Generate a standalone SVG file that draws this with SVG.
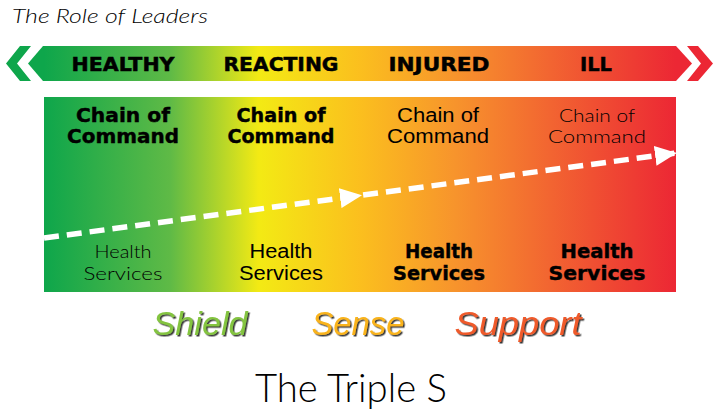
<svg xmlns="http://www.w3.org/2000/svg" width="720" height="416" viewBox="0 0 720 416">
<defs>
<linearGradient id="heat" gradientUnits="userSpaceOnUse" x1="44" y1="0" x2="676" y2="0">
<stop offset="0" stop-color="#0ea64b"/>
<stop offset="0.2" stop-color="#5fba46"/>
<stop offset="0.34" stop-color="#f3ea14"/>
<stop offset="0.5" stop-color="#fbbf1e"/>
<stop offset="0.65" stop-color="#f7942c"/>
<stop offset="0.8" stop-color="#f26531"/>
<stop offset="1" stop-color="#ec2734"/>
</linearGradient>
<marker id="head" viewBox="0 0 22 20" refX="22" refY="10" markerWidth="22" markerHeight="20" markerUnits="userSpaceOnUse" orient="auto">
<path d="M0,0 L22,10 L0,20 Z" fill="#ffffff"/>
</marker>
<filter id="shadow" x="-10%" y="-20%" width="130%" height="150%">
<feDropShadow dx="1.5" dy="1.5" stdDeviation="0.5" flood-color="#222" flood-opacity="0.9"/>
</filter>
</defs>
<style>
text { text-anchor: middle; fill: #000; }
.hdr { font-family: "DejaVu Sans", sans-serif; font-weight: bold; font-size: 20px; stroke: #000; stroke-width: 0.5px; }
.blk { font-family: "DejaVu Sans", sans-serif; font-weight: bold; font-size: 19px; stroke: #000; stroke-width: 0.4px; }
.reg { font-family: "Liberation Sans", Arial, sans-serif; font-weight: normal; font-size: 19.5px; }
.lgt { font-family: Lato, "Liberation Sans", sans-serif; font-weight: 300; font-size: 18.5px; }
.sss { font-family: "Liberation Sans", Arial, sans-serif; font-style: italic; font-size: 33px; filter: url(#shadow); }
</style>
<rect width="720" height="416" fill="#ffffff"/>

<g id="title">
<text x="12" y="23" class="lgt" style="text-anchor:start;font-style:italic;font-size:20px" textLength="196" lengthAdjust="spacingAndGlyphs">The Role of Leaders</text>
</g>

<g id="banner">
<polygon points="20,46 31,46 17,63.5 31,81 20,81 6,63.5" fill="#0ea64b"/>
<polygon points="43,46 676,46 692,63.5 676,81 43,81 28,63.5" fill="url(#heat)"/>
<polygon points="687,46 698,46 713,63.5 698,81 687,81 701,63.5" fill="#ec2734"/>
<text x="123" y="71" class="hdr" textLength="103" lengthAdjust="spacingAndGlyphs">HEALTHY</text>
<text x="281" y="71" class="hdr" textLength="115" lengthAdjust="spacingAndGlyphs">REACTING</text>
<text x="439" y="71" class="hdr" textLength="101" lengthAdjust="spacingAndGlyphs">INJURED</text>
<text x="596" y="71" class="hdr" textLength="32" lengthAdjust="spacingAndGlyphs">ILL</text>
</g>

<g id="panel">
<rect x="44" y="97" width="632" height="195" fill="url(#heat)"/>
</g>

<g id="col-healthy">
<text x="123" y="122" class="blk" textLength="94" lengthAdjust="spacingAndGlyphs">Chain of</text>
<text x="123" y="143" class="blk" textLength="112" lengthAdjust="spacingAndGlyphs">Command</text>
<text x="123" y="258" class="lgt" textLength="57" lengthAdjust="spacingAndGlyphs">Health</text>
<text x="123" y="280" class="lgt" textLength="79" lengthAdjust="spacingAndGlyphs">Services</text>
</g>

<g id="col-reacting">
<text x="281" y="122" class="blk" textLength="89" lengthAdjust="spacingAndGlyphs">Chain of</text>
<text x="281" y="143" class="blk" textLength="107" lengthAdjust="spacingAndGlyphs">Command</text>
<text x="281" y="258" class="reg" textLength="63" lengthAdjust="spacingAndGlyphs">Health</text>
<text x="281" y="280" class="reg" textLength="84" lengthAdjust="spacingAndGlyphs">Services</text>
</g>

<g id="col-injured">
<text x="438" y="122" class="reg" textLength="82" lengthAdjust="spacingAndGlyphs">Chain of</text>
<text x="438" y="143" class="reg" textLength="102" lengthAdjust="spacingAndGlyphs">Command</text>
<text x="439" y="258" class="blk" textLength="68" lengthAdjust="spacingAndGlyphs">Health</text>
<text x="439" y="280" class="blk" textLength="92" lengthAdjust="spacingAndGlyphs">Services</text>
</g>

<g id="col-ill">
<text x="597" y="122" class="lgt" textLength="76" lengthAdjust="spacingAndGlyphs">Chain of</text>
<text x="597" y="143" class="lgt" textLength="98" lengthAdjust="spacingAndGlyphs">Command</text>
<text x="597" y="258" class="blk" textLength="73" lengthAdjust="spacingAndGlyphs">Health</text>
<text x="597" y="280" class="blk" textLength="97" lengthAdjust="spacingAndGlyphs">Services</text>
</g>

<g id="connectors">
<path d="M44,238 L362,195.2 L677,152.9" fill="none" stroke="#ffffff" stroke-width="5.5" stroke-dasharray="15 8" marker-mid="url(#head)" marker-end="url(#head)"/>
</g>

<g id="triple-s">
<text x="200" y="335" class="sss" style="fill:#84c441" textLength="95" lengthAdjust="spacingAndGlyphs">Shield</text>
<text x="358" y="335" class="sss" style="fill:#f9b31a" textLength="93" lengthAdjust="spacingAndGlyphs">Sense</text>
<text x="518" y="335" class="sss" style="fill:#ef5a2b" textLength="127" lengthAdjust="spacingAndGlyphs">Support</text>
</g>

<g id="caption">
<text x="351" y="402" class="lgt" style="font-size:40px" textLength="192" lengthAdjust="spacingAndGlyphs">The Triple S</text>
</g>
</svg>
